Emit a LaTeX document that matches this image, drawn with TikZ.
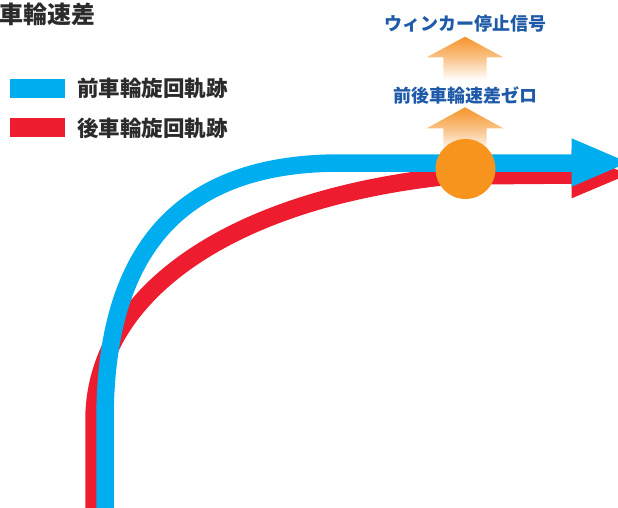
\documentclass[tikz,border=0pt]{standalone}
\usepackage{fontspec}
\newfontfamily\jp{Noto Sans CJK JP}
\definecolor{cyanline}{HTML}{00AEEF}
\definecolor{redline}{HTML}{ED1C2E}
\definecolor{dotorange}{HTML}{F7941D}
\definecolor{arrorange}{HTML}{F5942A}
\definecolor{txtblue}{HTML}{1E5AA8}
\definecolor{txtgray}{HTML}{2B2B2B}
\tikzset{
  track/.style={line width=17.5pt, line cap=butt},
  frontline/.style={track, draw=cyanline},
  rearline/.style={track, draw=redline},
  legendtext/.style={anchor=base west, inner sep=0pt, font=\jp\bfseries\fontsize{21.5}{22}\selectfont, text=txtgray},
  bluetext/.style={anchor=base, inner sep=0pt, font=\jp\bfseries\fontsize{18}{19}\selectfont, text=txtblue},
  upshade/.style={top color=arrorange, bottom color=white, middle color=arrorange!55},
}
\begin{document}
\begin{tikzpicture}[x=1pt,y=-1pt]
\useasboundingbox (0,0) rectangle (618,507);
% title
\node[anchor=base west, inner sep=0pt, font=\jp\bfseries\fontsize{24}{25}\selectfont, text=txtgray] (title) at (-1,23) {車輪速差};
% legend
\fill[cyanline] (10,79) rectangle (65,98);
\node[legendtext] (lgfront) at (77,96) {前車輪旋回軌跡};
\fill[redline] (10,118) rectangle (65,137);
\node[legendtext] (lgrear) at (77,136) {後車輪旋回軌跡};
% rear wheel track
\draw[rearline] (94,512) -- (94,420) .. controls (94,300) and (220,200) .. (450,176) -- (575,175);
\fill[redline] (571.7,149.9) -- (628,174.5) -- (571.7,198.3) -- cycle;
% front wheel track
\draw[frontline] (105,512) -- (105,420) .. controls (105,250) and (180,163) .. (340,163) -- (575,163);
\fill[cyanline] (571.7,138.3) -- (628,162.5) -- (571.7,186.7) -- cycle;
% orange arrows
\shade[upshade] (426.7,128.3) -- (465,107.3) -- (503.3,128.3) -- (486.7,128.3) -- (486.7,152) -- (443.3,152) -- (443.3,128.3) -- cycle;
\shade[upshade] (426.7,57.3) -- (465,36.7) -- (503.3,57.3) -- (486.7,57.3) -- (486.7,80) -- (443.3,80) -- (443.3,57.3) -- cycle;
% point
\fill[dotorange] (465.5,169) circle (30);
% labels
\node[bluetext] (zero) at (465,102) {前後車輪速差ゼロ};
\node[bluetext] (stop) at (465,30) {ウィンカー停止信号};
\end{tikzpicture}
\end{document}
